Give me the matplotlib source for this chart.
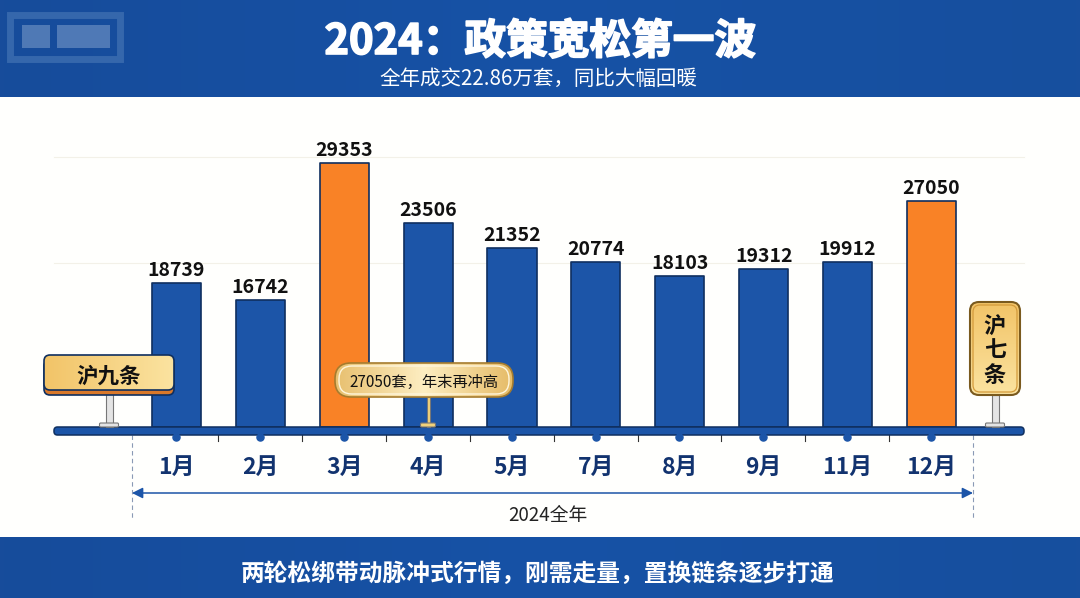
import numpy as np
import matplotlib
matplotlib.use("Agg")
import matplotlib.pyplot as plt
import matplotlib.patheffects as pe
from matplotlib.colors import LinearSegmentedColormap
from matplotlib.patches import FancyBboxPatch, Rectangle

plt.rcParams['font.family'] = ['Noto Sans CJK SC', 'DejaVu Sans']

months = ['1月', '2月', '3月', '4月', '5月', '7月', '8月', '9月', '11月', '12月']
volumes = [18739, 16742, 29353, 23506, 21352, 20774, 18103, 19312, 19912, 27050]
# the bars in the picture do not follow their labels exactly, so heights are read off separately
bar_heights = [144, 127, 264, 204, 179, 165, 151, 158, 165, 226]
highlight = ['3月', '12月']

title = '2024：政策宽松第一波'
subtitle = '全年成交22.86万套，同比大幅回暖'
footer = '两轮松绑带动脉冲式行情，刚需走量，置换链条逐步打通'
span_label = '2024全年'
peak_note = '27050套，年末再冲高'

BLUE = '#1c55a8'
NAVY = '#0f2f5f'
ORANGE = '#f98226'
gold = LinearSegmentedColormap.from_list('gold', ['#f2c468', '#fbe3a0'])
gold_note = LinearSegmentedColormap.from_list('gold_note', ['#e8c070', '#fdeec2', '#e6bc68'])
band = LinearSegmentedColormap.from_list('band', ['#174c9b', '#1652a6', '#174f9e'])

fig = plt.figure(figsize=(10.8, 5.98), dpi=100, facecolor='#fffffd')

# pixel coordinate layer, everything that is not data goes here
def layer(z):
    a = fig.add_axes([0, 0, 1, 1], zorder=z)
    a.set_xlim(0, 1080); a.set_ylim(598, 0)
    a.axis('off')
    a.patch.set_alpha(0)
    return a

bg = layer(0)
top = layer(3)

def grad_box(a, x0, y0, x1, y1, cmap, horizontal=True, pad=6, edge=NAVY, lw=1.2):
    box = FancyBboxPatch((x0, y0), x1-x0, y1-y0, boxstyle=f'round,pad=0,rounding_size={pad}',
                         fc='none', ec=edge, lw=lw, zorder=5)
    a.add_patch(box)
    g = np.linspace(0, 1, 64)
    g = g.reshape(1, -1) if horizontal else g.reshape(-1, 1)
    im = a.imshow(g, extent=(x0, x1, y1, y0), cmap=cmap, aspect='auto', zorder=4)
    im.set_clip_path(box)
    a.set_xlim(0, 1080); a.set_ylim(598, 0)

def post(a, x, y0, y1, w=7, foot=19, col='#e4e4e4'):
    a.add_patch(Rectangle((x-w/2, y0), w, y1-y0, fc=col, ec='#777777', lw=0.8, zorder=3))
    a.add_patch(FancyBboxPatch((x-foot/2, y1-4), foot, 4, boxstyle='round,pad=0,rounding_size=1.2',
                               fc=col, ec='#777777', lw=0.8, zorder=3))

# header and footer bands
for y0, y1 in [(0, 97), (537, 598)]:
    g = np.linspace(0, 1, 256).reshape(1, -1)
    bg.imshow(g, extent=(0, 1080, y1, y0), cmap=band, aspect='auto', zorder=1)
bg.set_xlim(0, 1080); bg.set_ylim(598, 0)

t = bg.text(540, 42, title, color='white', fontsize=30, fontweight='bold', ha='center', va='center')
t.set_path_effects([pe.withStroke(linewidth=1.2, foreground='white')])
bg.text(538, 79, subtitle, color='white', fontsize=14.8, ha='center', va='center')
bg.text(538, 574, footer, color='white', fontsize=17.1, fontweight='bold', ha='center', va='center')

# blurred logo in the corner
bg.add_patch(Rectangle((10, 15), 110, 44, fc='none', ec='#3567ac', lw=5, zorder=2))
bg.add_patch(Rectangle((22, 25), 28, 23, fc='#7f9fcc', ec='none', alpha=0.55, zorder=2))
bg.add_patch(Rectangle((57, 25), 53, 23, fc='#7f9fcc', ec='none', alpha=0.55, zorder=2))

# faint grid
for y in [157, 263]:
    bg.plot([54, 1024], [y, y], color='#f3f1e8', lw=0.8, zorder=1)

# chart
ax = fig.add_axes([54/1080, 1-427/598, (1024-54)/1080, (427-100)/598], zorder=1)
ax.patch.set_alpha(0)
x = np.arange(len(months))
colors = [ORANGE if m in highlight else BLUE for m in months]
bars = ax.bar(x, bar_heights, width=0.585, color=colors, edgecolor=NAVY, linewidth=1.2)
for b in bars:
    b.set_joinstyle('round')
ax.bar_label(bars, labels=[str(v) for v in volumes], padding=2.5, fontsize=14,
             fontweight='bold', color='#111111')
ax.set_xlim(-1.459, 10.103)
ax.set_ylim(0, 327)
ax.set_yticks([])
ax.set_xticks(x)
ax.set_xticklabels(months, fontsize=16.5, fontweight='bold', color='#12336f')
ax.tick_params(axis='x', length=0, pad=21)
for s in ax.spines.values():
    s.set_visible(False)

# timeline bar
top.add_patch(FancyBboxPatch((54, 427), 970, 8, boxstyle='round,pad=0,rounding_size=3.5',
                             fc=BLUE, ec=NAVY, lw=1.1, zorder=2))
xs = 176 + np.arange(len(months)) * 83.9
top.scatter(xs, np.full(len(xs), 437), s=26, color=BLUE, zorder=2)
for v in 218 + np.arange(len(months)-1) * 83.9:
    top.plot([v, v], [435, 441], color='#333333', lw=0.8, zorder=1)

# 2024 span arrow
for v in [132, 973]:
    top.plot([v, v], [435, 520], color='#8a9ab5', lw=0.8, ls=(0, (4, 3)), zorder=1)
top.annotate('', xy=(132, 493), xytext=(973, 493),
             arrowprops=dict(arrowstyle='<|-|>', color=BLUE, lw=1.1, mutation_scale=16, shrinkA=0, shrinkB=0))
top.text(548, 515, span_label, fontsize=13.5, color='#222222', ha='center', va='center')

# signs
post(top, 109, 394, 427)
top.add_patch(FancyBboxPatch((44, 360), 130, 35, boxstyle='round,pad=0,rounding_size=6',
                             fc='#d9782a', ec=NAVY, lw=1.2, zorder=3))
grad_box(top, 44, 355, 174, 390, gold)
top.text(109, 376, '沪九条', fontsize=15.5, fontweight='bold', color='#111111', ha='center', va='center', zorder=6)

post(top, 428, 397, 427, w=3, foot=15, col='#f2d27a')
grad_box(top, 335, 363, 513, 397, gold_note, pad=16, edge='#a67c2e')
top.add_patch(FancyBboxPatch((339, 366), 170, 28, boxstyle='round,pad=0,rounding_size=13',
                             fc='none', ec='#fff6dc', lw=1, zorder=5))
top.text(424, 382, peak_note, fontsize=11, fontweight='medium', color='#111111', ha='center', va='center', zorder=6)

post(top, 995, 395, 427)
grad_box(top, 970, 302, 1020, 395, gold, horizontal=False, pad=9, edge='#7a5a1e', lw=1.5)
top.add_patch(FancyBboxPatch((973, 305), 44, 87, boxstyle='round,pad=0,rounding_size=7',
                             fc='none', ec='#d39a3a', lw=0.9, zorder=5))
for c, y in zip('沪七条', [327, 351, 375]):
    top.text(995, y, c, fontsize=16, fontweight='bold', color='#111111', ha='center', va='center', zorder=6)

fig.savefig('out.png', dpi=100, facecolor=fig.get_facecolor())
